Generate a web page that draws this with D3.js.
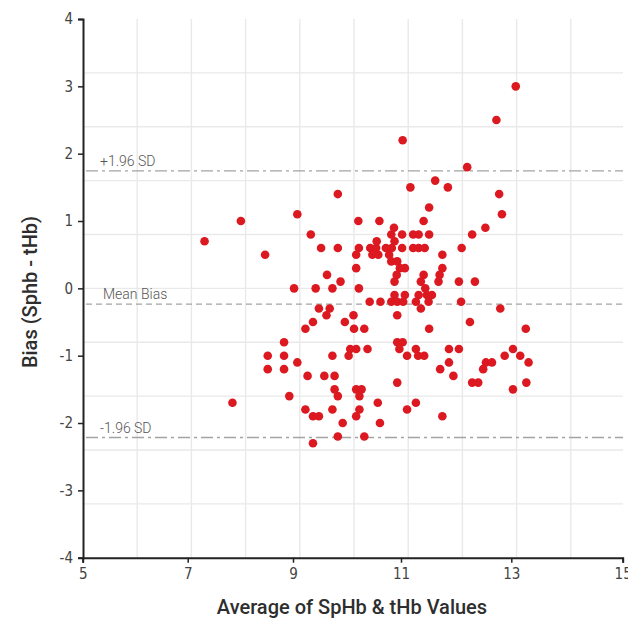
<!DOCTYPE html>
<html>
<head>
<meta charset="utf-8">
<script src="https://cdn.jsdelivr.net/npm/d3@7/dist/d3.min.js"></script>
<style>
  html, body { margin: 0; padding: 0; background: #fff; }
  svg { display: block; }
  .tick text { font-family: "Liberation Sans Narrow", "DejaVu Sans Condensed", "Roboto", sans-serif; font-size: 15px; fill: #444; }
  .axis-title { font-family: "Roboto", "Noto Sans", sans-serif; font-weight: 500; font-size: 20px; fill: #2e2e2e; }
  .ref-label { font-family: "Roboto", "Noto Sans", sans-serif; font-weight: 300; font-size: 14px; fill: #555; }
</style>
</head>
<body>
<div id="chart"></div>
<script>
// Average of SpHb & tHb (x) against the bias SpHb - tHb (y), one entry per sample
const avgValues = [
  13.08, 12.73, 11.03, 12.20, 11.62, 11.17, 11.85, 9.83, 12.78, 11.51,
  9.08, 12.83, 8.01, 10.21, 10.60, 11.41, 10.87, 12.53, 7.32, 9.33,
  10.82, 11.02, 11.22, 11.32, 11.51, 12.29, 10.55, 10.88, 8.47, 9.52,
  9.83, 10.22, 10.43, 10.54, 10.72, 10.83, 11.02, 11.22, 11.32, 11.43,
  12.10, 10.17, 10.47, 10.58, 10.78, 11.75, 10.82, 10.93, 10.98, 11.07,
  10.17, 11.75, 9.63, 10.92, 11.41, 11.70, 9.88, 10.88, 11.36, 11.68,
  12.05, 12.34, 9.02, 9.42, 9.73, 10.22, 11.44, 10.88, 11.07, 11.32,
  11.47, 11.56, 10.42, 10.62, 10.82, 10.93, 11.04, 11.27, 11.50, 12.09,
  11.36, 12.80, 9.48, 9.68, 9.62, 10.12, 10.93, 9.37, 9.96, 12.25,
  9.23, 10.13, 10.32, 11.51, 13.26, 8.83, 10.93, 11.03, 10.97, 10.06,
  10.17, 10.38, 11.27, 11.87, 12.05, 13.03, 8.52, 8.83, 9.73, 10.03,
  11.11, 11.31, 11.42, 12.88, 13.16, 9.08, 11.87, 12.54, 12.65, 13.31,
  8.52, 8.83, 11.71, 12.49, 9.27, 9.58, 9.77, 11.95, 10.93, 12.29,
  12.40, 13.27, 9.77, 10.17, 10.27, 13.03, 9.83, 10.23, 8.93, 7.85,
  10.57, 11.27, 9.23, 9.73, 10.23, 11.11, 9.37, 9.48, 10.17, 11.75,
  9.92, 10.61, 9.83, 10.32, 9.37
];
const biasValues = [
  3.0, 2.5, 2.2, 1.8, 1.6, 1.5, 1.5, 1.4, 1.4, 1.2,
  1.1, 1.1, 1.0, 1.0, 1.0, 1.0, 0.9, 0.9, 0.7, 0.8,
  0.8, 0.8, 0.8, 0.8, 0.8, 0.8, 0.7, 0.7, 0.5, 0.6,
  0.6, 0.6, 0.6, 0.6, 0.6, 0.6, 0.6, 0.6, 0.6, 0.6,
  0.6, 0.5, 0.5, 0.5, 0.5, 0.5, 0.4, 0.4, 0.3, 0.3,
  0.3, 0.3, 0.2, 0.2, 0.2, 0.2, 0.1, 0.1, 0.1, 0.1,
  0.1, 0.1, 0.0, 0.0, 0.0, 0.0, 0.0, -0.1, -0.1, -0.1,
  -0.1, -0.1, -0.2, -0.2, -0.2, -0.2, -0.2, -0.2, -0.2, -0.2,
  -0.3, -0.3, -0.3, -0.3, -0.4, -0.4, -0.4, -0.5, -0.5, -0.5,
  -0.6, -0.6, -0.6, -0.6, -0.6, -0.8, -0.8, -0.8, -0.9, -0.9,
  -0.9, -0.9, -0.9, -0.9, -0.9, -0.9, -1.0, -1.0, -1.0, -1.0,
  -1.0, -1.0, -1.0, -1.0, -1.0, -1.1, -1.1, -1.1, -1.1, -1.1,
  -1.2, -1.2, -1.2, -1.2, -1.3, -1.3, -1.3, -1.3, -1.4, -1.4,
  -1.4, -1.4, -1.5, -1.5, -1.5, -1.5, -1.6, -1.6, -1.6, -1.7,
  -1.7, -1.7, -1.8, -1.8, -1.8, -1.8, -1.9, -1.9, -1.9, -1.9,
  -2.0, -2.0, -2.2, -2.2, -2.3
];

// Limits of agreement
const meanBias = -0.235;
const sdSpread = 1.98;           // 1.96 x SD
const refLines = ["+1.96 SD", "Mean Bias", "-1.96 SD"];

// Axis ticks
const xTicks = [5, 7, 9, 11, 13, 15];
const yTicks = [-4, -3, -2, -1, 0, 1, 2, 3, 4];

// ---- layout ----
const width = 628, height = 620;
const plotLeft = 83, plotRight = 623, plotTop = 19, plotBottom = 557.7;

const svg = d3.select("#chart").append("svg")
  .attr("width", width).attr("height", height);

// x axis stops are slightly uneven across the range
const x = d3.scaleLinear()
  .domain(xTicks)
  .range([82.7, 187.7, 293, 401, 511.3, 622.7]);
const y = d3.scaleLinear().domain([-4, 4]).range([plotBottom, plotTop]);

// background grid: 10 columns across the plot, rows every 0.8 of bias
const grid = svg.append("g").attr("stroke", "#e9e9e9").attr("stroke-width", 1.4);
const colStep = (plotRight + 2 - plotLeft) / 10;
grid.selectAll("line.v").data(d3.range(1, 10)).join("line")
  .attr("class", "v")
  .attr("x1", i => plotLeft + i * colStep).attr("x2", i => plotLeft + i * colStep)
  .attr("y1", plotTop).attr("y2", plotBottom);
grid.selectAll("line.h").data(d3.range(1, 10).map(i => -4 + i * 0.8)).join("line")
  .attr("class", "h")
  .attr("x1", plotLeft).attr("x2", plotRight)
  .attr("y1", d => y(d)).attr("y2", d => y(d));

// limits of agreement
const limits = [meanBias + sdSpread, meanBias, meanBias - sdSpread];
const dash = ["12,4,3,4", "6,4", "12,4,3,4"];
const refG = svg.append("g");
refG.selectAll("line").data(limits).join("line")
  .attr("x1", plotLeft + 3).attr("x2", plotRight)
  .attr("y1", d => y(d)).attr("y2", d => y(d))
  .attr("stroke", "#a3a3a3").attr("stroke-width", 1.3)
  .attr("stroke-dasharray", (d, i) => dash[i]);
refG.selectAll("text").data(limits).join("text")
  .attr("class", "ref-label")
  .attr("x", (d, i) => i === 1 ? 103 : 100)
  .attr("y", d => y(d) - 5)
  .text((d, i) => refLines[i]);

// points
svg.append("g").selectAll("circle")
  .data(avgValues.map((v, i) => [v, biasValues[i]]))
  .join("circle")
  .attr("cx", d => x(d[0]))
  .attr("cy", d => y(d[1]))
  .attr("r", 4.3)
  .attr("fill", "#dc1820");

// axes
const xAxis = svg.append("g")
  .attr("transform", `translate(0,${plotBottom})`)
  .call(d3.axisBottom(x).tickValues(xTicks).tickFormat(String).tickSize(5).tickPadding(6));
const yAxis = svg.append("g")
  .attr("transform", `translate(${plotLeft},0)`)
  .call(d3.axisLeft(y).tickValues(yTicks).tickFormat(String).tickSize(5).tickPadding(5));
[xAxis, yAxis].forEach(g => {
  g.select(".domain").attr("stroke", "#222").attr("stroke-width", 2);
  g.selectAll(".tick line").attr("stroke", "#222").attr("stroke-width", 1.5);
});

// axis titles
svg.append("text").attr("class", "axis-title")
  .attr("x", 352).attr("y", 614)
  .attr("text-anchor", "middle")
  .text("Average of SpHb & tHb Values");
svg.append("text").attr("class", "axis-title")
  .attr("transform", "translate(37,292) rotate(-90)")
  .attr("text-anchor", "middle")
  .text("Bias (Sphb - tHb)");
</script>
</body>
</html>
